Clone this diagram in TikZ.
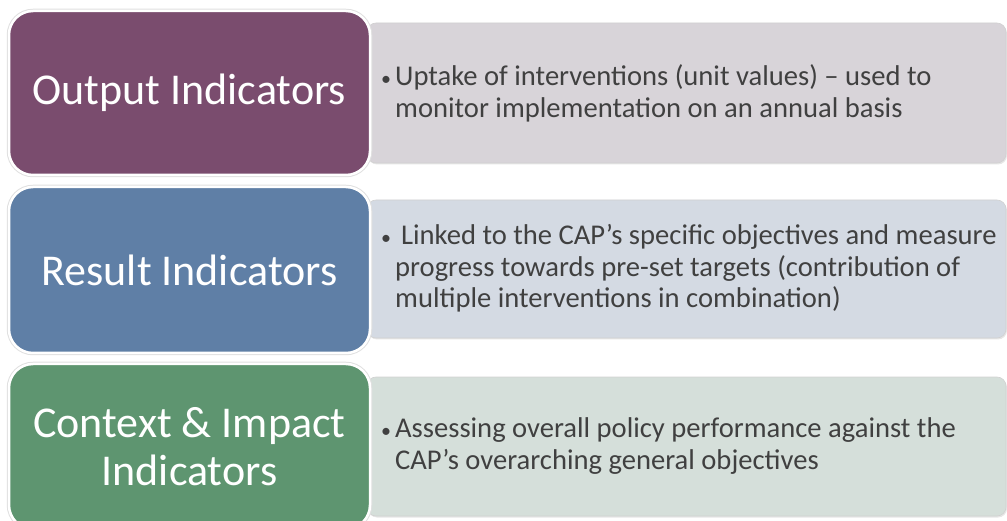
\documentclass[tikz,border=0pt]{standalone}
\usepackage{fontspec}
\setmainfont{Carlito}
\usetikzlibrary{shadows}

\definecolor{outputc}{HTML}{7A4C6E}
\definecolor{resultc}{HTML}{5F7FA6}
\definecolor{contextc}{HTML}{5E9570}
\definecolor{outputl}{HTML}{D8D4D9}
\definecolor{resultl}{HTML}{D4DAE3}
\definecolor{contextl}{HTML}{D5DFDA}
\definecolor{notetext}{HTML}{404040}

\newcommand{\dotmark}{{\fontsize{20}{20}\selectfont\textbullet}}

\begin{document}
\begin{tikzpicture}[
    x=1pt, y=-1pt,
    indicator/.style={rectangle, rounded corners=24pt, draw=white, line width=2.5pt,
        preaction={draw=black!12, line width=4.5pt},
        minimum width=361pt, align=center, text=white,
        font=\fontsize{44}{48}\selectfont},
    note/.style={rectangle, rounded corners=9pt, draw=black!18, line width=0.6pt,
        drop shadow={shadow xshift=1pt, shadow yshift=-1.5pt, opacity=0.2},
        minimum width=639pt},
    notetxt/.style={anchor=west, text=notetext, inner sep=0pt, align=left,
        font=\fontsize{28.6}{31.5}\selectfont}
]
\useasboundingbox (0,0) rectangle (1007,521);
\clip (0,0) rectangle (1007,521);

% right-hand description panels (behind the coloured boxes)
\node[note, fill=outputl, minimum height=140pt] (output_note) at (686.5,93) {};
\node[note, fill=resultl, minimum height=138pt] (result_note) at (686.5,269) {};
\node[note, fill=contextl, minimum height=139pt] (context_note) at (686.5,446.5) {};

% left-hand indicator boxes
\node[indicator, fill=outputc, minimum height=164pt] (output_box) at (189.5,93) {Output Indicators};
\node[indicator, fill=resultc, minimum height=166pt] (result_box) at (189.5,270) {Result Indicators};
\node[indicator, fill=contextc, minimum height=165pt] (context_box) at (189.5,446.5) {Context \& Impact\\Indicators};

% bullet texts
\node[notetxt] (output_txt) at (381,95) {%
    \begin{tabular}{@{}l@{\hspace{4pt}}l@{}}
    \dotmark & Uptake of interventions (unit values) -- used to\\
    & monitor implementation on an annual basis
    \end{tabular}};
\node[notetxt] (result_txt) at (381,270) {%
    \begin{tabular}{@{}l@{\hspace{4pt}}l@{}}
    \dotmark & \hspace{6pt}Linked to the CAP’s specific objectives and measure\\
    & progress towards pre-set targets (contribution of\\
    & multiple interventions in combination)
    \end{tabular}};
\node[notetxt] (context_txt) at (381,447) {%
    \begin{tabular}{@{}l@{\hspace{4pt}}l@{}}
    \dotmark & Assessing overall policy performance against the\\
    & CAP’s overarching general objectives
    \end{tabular}};

\end{tikzpicture}
\end{document}
